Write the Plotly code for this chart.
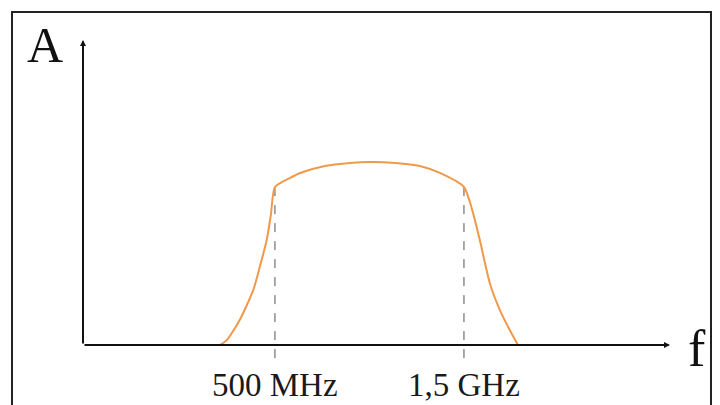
import plotly.graph_objects as go

# Frequency response (arbitrary units)
freq = [2.33, 2.45, 2.67, 2.90, 3.02, 3.13, 3.20, 3.27, 3.53, 3.70, 4.12, 4.55, 4.89,
        5.32, 5.74, 6.08, 6.49, 6.63, 6.76, 6.93, 7.10, 7.27, 7.41]
amp = [0.00, 0.16, 0.82, 1.80, 2.62, 3.44, 4.26, 5.18, 5.48, 5.64, 5.87, 5.97, 6.00,
       5.97, 5.87, 5.64, 5.18, 4.43, 3.44, 2.03, 1.15, 0.49, 0.00]
cutoff_x = [3.27, 6.49]
cutoff_labels = ["500 MHz", "1,5 GHz"]
cutoff_top = 5.31
axis_x_max = 10.0
axis_y_max = 10.0

serif = "Liberation Serif, Times New Roman, serif"

fig = go.Figure()
fig.add_trace(go.Scatter(x=freq, y=amp, mode="lines",
                         line=dict(color="#F0994A", width=2, shape="spline", smoothing=0.6),
                         hoverinfo="skip", showlegend=False))

shapes = []
for cx in cutoff_x:
    shapes.append(dict(type="line", xref="x", yref="y", x0=cx, x1=cx, y0=-0.43, y1=cutoff_top,
                       line=dict(color="#555555", width=1, dash="dash"), layer="below"))
# frame
shapes.append(dict(type="rect", xref="paper", yref="paper",
                   x0=12/720, x1=711/720, y0=-0.05, y1=1-12/405,
                   line=dict(color="#222222", width=2)))

annotations = []
# axes with arrows
annotations.append(dict(x=axis_x_max, y=0, ax=0, ay=0, xref="x", yref="y", axref="x", ayref="y",
                        showarrow=True, arrowhead=2, arrowsize=0.6, arrowwidth=2, arrowcolor="#111111", text=""))
annotations.append(dict(x=0, y=axis_y_max, ax=0, ay=0, xref="x", yref="y", axref="x", ayref="y",
                        showarrow=True, arrowhead=2, arrowsize=0.6, arrowwidth=2, arrowcolor="#111111", text=""))
for cx, lab in zip(cutoff_x, cutoff_labels):
    annotations.append(dict(x=cx, y=-1.31, xref="x", yref="y", text=lab, showarrow=False,
                            font=dict(family=serif, size=33, color="#1a1a1a")))
annotations.append(dict(x=-0.65, y=9.84, xref="x", yref="y", text="A", showarrow=False,
                        font=dict(family=serif, size=50, color="#111111")))
annotations.append(dict(x=10.46, y=-0.10, xref="x", yref="y", text="f", showarrow=False,
                        font=dict(family=serif, size=52, color="#111111")))

fig.update_layout(
    width=720, height=405,
    margin=dict(l=0, r=0, t=0, b=0),
    paper_bgcolor="white", plot_bgcolor="white",
    xaxis=dict(range=[-1.414, 10.852], visible=False, fixedrange=True),
    yaxis=dict(range=[-1.967, 11.31], visible=False, fixedrange=True),
    shapes=shapes, annotations=annotations,
)
fig.write_html("out.html", config={"displayModeBar": False},
               post_script="document.body.style.margin='0';document.body.style.overflow='hidden';")
